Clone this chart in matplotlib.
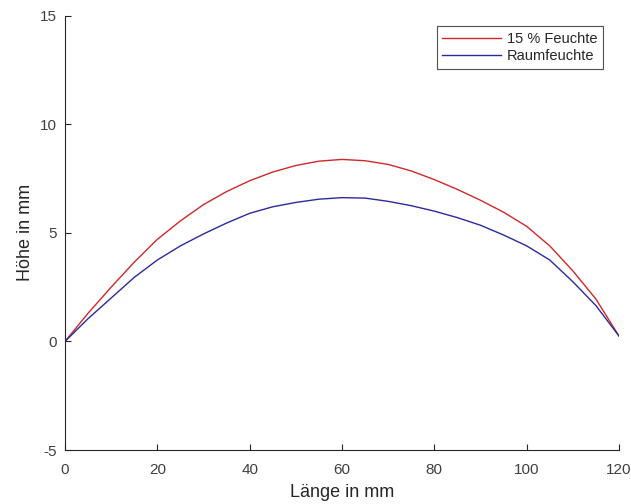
import numpy as np
import matplotlib
matplotlib.use("Agg")
import matplotlib.pyplot as plt

plt.rcParams['font.family'] = ['Liberation Sans', 'DejaVu Sans']
plt.rcParams['axes.unicode_minus'] = False

# Länge in mm
laenge = [0, 5, 10, 15, 20, 25, 30, 35, 40, 45, 50, 55, 60,
          65, 70, 75, 80, 85, 90, 95, 100, 105, 110, 115, 120]
# Höhe in mm bei 15 % Feuchte
hoehe_feucht = [0.0, 1.3, 2.5, 3.65, 4.7, 5.55, 6.3, 6.9, 7.4, 7.8, 8.1, 8.3, 8.38,
                8.32, 8.15, 7.85, 7.45, 7.0, 6.5, 5.95, 5.3, 4.4, 3.25, 1.95, 0.25]
# Höhe in mm bei Raumfeuchte
hoehe_raum = [0.0, 1.05, 2.0, 2.95, 3.75, 4.4, 4.95, 5.45, 5.9, 6.2, 6.4, 6.55, 6.62,
              6.6, 6.45, 6.25, 6.0, 5.7, 5.35, 4.9, 4.4, 3.75, 2.75, 1.65, 0.25]

labels = ["15 % Feuchte", "Raumfeuchte"]
xticks = [0, 20, 40, 60, 80, 100, 120]
yticks = [-5, 0, 5, 10, 15]

fig = plt.figure(figsize=(6.31, 5.04), dpi=100)
ax = fig.add_axes([0.103, 0.107, 0.878, 0.862])

ax.plot(laenge, hoehe_feucht, color='#d02828', lw=1.0, label=labels[0])
ax.plot(laenge, hoehe_raum, color='#2a2a9c', lw=1.0, label=labels[1])

ax.set_xlim(0, 120)
ax.set_ylim(-5, 15)
ax.set_xticks(xticks)
ax.set_yticks(yticks)

ax.spines['top'].set_visible(False)
ax.spines['right'].set_visible(False)
for s in ('left', 'bottom'):
    ax.spines[s].set_color('#262626')
    ax.spines[s].set_linewidth(0.8)

ax.tick_params(direction='in', length=4, width=0.8, color='#262626',
               labelsize=11, labelcolor='#404040')
ax.tick_params(axis='x', pad=9)
ax.tick_params(axis='y', pad=6)

ax.set_xlabel("Länge in mm", fontsize=13, color='#262626', labelpad=5)
ax.set_ylabel("Höhe in mm", fontsize=13, color='#262626', labelpad=4)

leg = ax.legend(loc='upper right', bbox_to_anchor=(0.971, 0.975), fontsize=10.5,
                frameon=True, fancybox=False, borderpad=0.4, labelspacing=0.2,
                handlelength=4.0, handletextpad=0.4, borderaxespad=0)
leg.get_frame().set_edgecolor('#262626')
leg.get_frame().set_linewidth(0.8)
for t in leg.get_texts():
    t.set_color('#262626')

fig.savefig("out.png", dpi=100)
